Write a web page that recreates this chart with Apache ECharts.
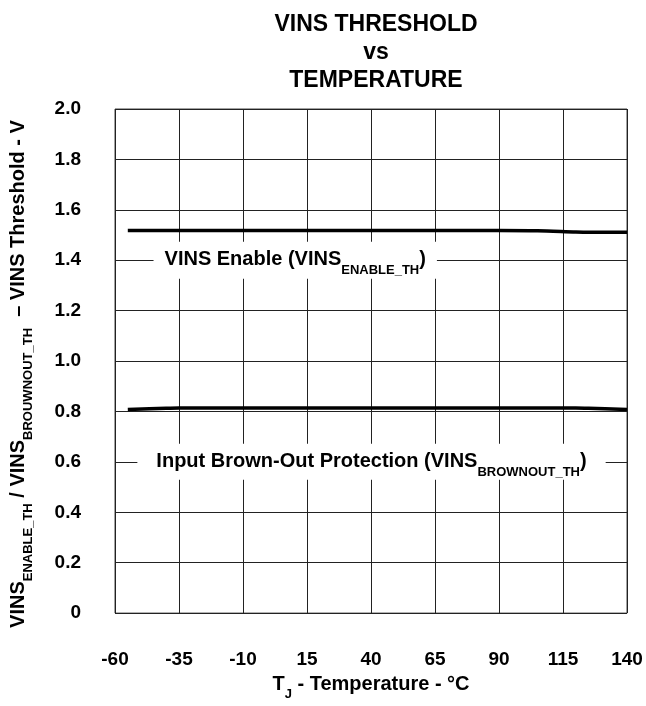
<!DOCTYPE html>
<html><head><meta charset="utf-8">
<script src="https://cdn.jsdelivr.net/npm/echarts@6/dist/echarts.min.js"></script>
<style>html,body{margin:0;padding:0;background:#fff}#c{width:646px;height:706px}</style>
</head><body><div id="c"></div>
<script>
const temps = [-55, -40, -35, -10, 15, 40, 65, 90, 105, 120, 125, 140];
const enableTh = [1.518, 1.518, 1.518, 1.518, 1.518, 1.518, 1.518, 1.518, 1.517, 1.512, 1.511, 1.511];
const brownoutTh = [0.808, 0.813, 0.814, 0.814, 0.814, 0.814, 0.814, 0.814, 0.814, 0.814, 0.813, 0.808];
const xTicks = [-60, -35, -10, 15, 40, 65, 90, 115, 140];
const yTicks = [0, 0.2, 0.4, 0.6, 0.8, 1.0, 1.2, 1.4, 1.6, 1.8, 2.0];
const labelEnable = [10.4, 1.4];
const labelBrown = [40.2, 0.6];

const FF = '"Liberation Sans", Arial, sans-serif';
const chart = echarts.init(document.getElementById('c'));
const mainStyle = {fontSize: 20, fontWeight: 'bold', fontFamily: FF, color: '#000', lineHeight: 26};
const subStyle = {fontSize: 13, fontWeight: 'bold', fontFamily: FF, color: '#000', verticalAlign: 'bottom', lineHeight: 26, padding: [0,0,-4,0]};

chart.setOption({
  animation: false,
  title: {
    text: 'VINS THRESHOLD\nvs\nTEMPERATURE',
    left: 371, textAlign: 'center', top: 6,
    textStyle: {fontFamily: FF, fontWeight: 'bold', fontSize: 23, lineHeight: 28, color: '#000'}
  },
  grid: {left: 114, right: 19, top: 109, bottom: 82, show: true, borderColor: '#444', borderWidth: 1},
  xAxis: {
    type: 'value', min: -60, max: 140, interval: 25,
    axisLine: {show: false}, axisTick: {show: false},
    splitLine: {show: true, lineStyle: {color: '#222', width: 1}},
    axisLabel: {margin: 37, fontFamily: FF, fontWeight: 'bold', fontSize: 19, color: '#000'},
    name: '{m|T}{s|J}{m| - Temperature - °C}',
    nameLocation: 'middle', nameGap: 55,
    nameTextStyle: {rich: {m: mainStyle, s: subStyle}}
  },
  yAxis: {
    type: 'value', min: 0, max: 2, interval: 0.2,
    axisLine: {show: false}, axisTick: {show: false},
    splitLine: {show: true, lineStyle: {color: '#222', width: 1}},
    axisLabel: {margin: 34, fontFamily: FF, fontWeight: 'bold', fontSize: 19, color: '#000',
      formatter: v => (Math.abs(v) < 1e-9 ? '0' : v.toFixed(1))},
    name: '{m|VINS}{s|ENABLE_TH}{m| / VINS}{s|BROUWNOUT_TH}{m|  – VINS Threshold - V}',
    nameLocation: 'middle', nameGap: 84, nameRotate: 90,
    nameTextStyle: {padding: [0, 26, 0, 0], rich: {m: mainStyle, s: subStyle}}
  },
  series: [
    {type: 'line', data: temps.map((t, i) => [t, enableTh[i]]), showSymbol: false, smooth: 0.3,
      lineStyle: {color: '#000', width: 3.5}, z: 3},
    {type: 'line', data: temps.map((t, i) => [t, brownoutTh[i]]), showSymbol: false, smooth: 0.3,
      lineStyle: {color: '#000', width: 3.5}, z: 3},
    {type: 'scatter', symbolSize: 0, z: 4, silent: true, itemStyle: {opacity: 1},
      data: [
        {value: labelEnable, label: {padding: [5, 11, 6, 11]},
         name: '{m|VINS Enable (VINS}{s|ENABLE_TH}{m|)}'},
        {value: labelBrown, label: {padding: [5, 19, 5, 19]},
         name: '{m|Input Brown-Out Protection (VINS}{s|BROWNOUT_TH}{m|)}'}
      ],
      label: {show: true, position: 'inside', backgroundColor: '#fff', opacity: 1,
        formatter: p => p.name, rich: {m: mainStyle, s: subStyle}}
    }
  ]
});
</script></body></html>
